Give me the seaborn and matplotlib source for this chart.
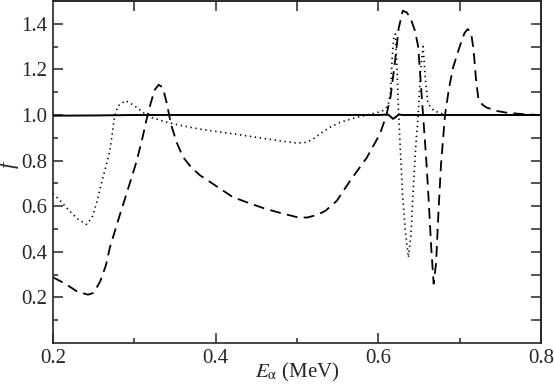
import matplotlib
matplotlib.use('Agg')
import matplotlib.pyplot as plt
import numpy as np
import pandas as pd
import seaborn as sns

# solid curve
solid_x = [0.200, 0.250, 0.300, 0.600, 0.612, 0.616, 0.618, 0.621, 0.625, 0.630, 0.800]
solid_y = [0.997, 0.998, 1.000, 1.000, 1.002, 0.990, 0.983, 0.990, 1.002, 1.000, 1.000]

# dashed curve
dash_x = [0.200, 0.215, 0.230, 0.243, 0.250, 0.258, 0.265, 0.270, 0.276, 0.282,
          0.290, 0.297, 0.303, 0.310, 0.315, 0.320, 0.325, 0.330, 0.335, 0.340,
          0.345, 0.352, 0.360, 0.370, 0.381, 0.400, 0.421, 0.440, 0.460, 0.480,
          0.500, 0.512, 0.525, 0.535, 0.549, 0.565, 0.586, 0.602, 0.610, 0.615,
          0.620, 0.625, 0.630, 0.635, 0.640, 0.645, 0.649, 0.652, 0.655, 0.659,
          0.662, 0.665, 0.668, 0.671, 0.674, 0.677, 0.682, 0.687, 0.692, 0.700,
          0.706, 0.710, 0.714, 0.717, 0.720, 0.723, 0.728, 0.733, 0.745, 0.758,
          0.780, 0.800]
dash_y = [0.288, 0.260, 0.225, 0.212, 0.220, 0.270, 0.340, 0.420, 0.490, 0.560,
          0.650, 0.730, 0.800, 0.900, 0.980, 1.050, 1.110, 1.133, 1.120, 1.050,
          0.960, 0.880, 0.815, 0.770, 0.735, 0.690, 0.640, 0.615, 0.590, 0.570,
          0.552, 0.550, 0.562, 0.580, 0.624, 0.710, 0.814, 0.917, 1.000, 1.080,
          1.220, 1.380, 1.457, 1.450, 1.420, 1.370, 1.300, 1.150, 1.000, 0.800,
          0.620, 0.420, 0.260, 0.350, 0.580, 0.780, 1.000, 1.120, 1.210, 1.300,
          1.360, 1.377, 1.360, 1.290, 1.160, 1.070, 1.045, 1.033, 1.018, 1.010,
          1.003, 1.000]

# dotted curve
dot_x = [0.200, 0.210, 0.220, 0.230, 0.241, 0.248, 0.254, 0.258, 0.264, 0.270,
         0.276, 0.280, 0.289, 0.296, 0.303, 0.311, 0.320, 0.340, 0.360, 0.381,
         0.400, 0.422, 0.445, 0.463, 0.480, 0.500, 0.512, 0.520, 0.528, 0.540,
         0.553, 0.570, 0.586, 0.600, 0.606, 0.612, 0.615, 0.617, 0.619, 0.621,
         0.623, 0.625, 0.628, 0.630, 0.633, 0.637, 0.640, 0.643, 0.646, 0.649,
         0.652, 0.655, 0.658, 0.661, 0.668, 0.676, 0.684, 0.800]
dot_y = [0.655, 0.620, 0.580, 0.545, 0.520, 0.550, 0.620, 0.680, 0.760, 0.845,
         1.000, 1.040, 1.063, 1.050, 1.033, 1.010, 0.990, 0.968, 0.952, 0.938,
         0.928, 0.917, 0.905, 0.895, 0.886, 0.877, 0.880, 0.895, 0.917, 0.945,
         0.968, 0.986, 1.000, 1.012, 1.020, 1.040, 1.100, 1.250, 1.340, 1.355,
         1.200, 1.000, 0.780, 0.640, 0.500, 0.375, 0.470, 0.680, 0.860, 1.000,
         1.200, 1.300, 1.150, 1.050, 1.020, 1.008, 1.000, 1.000]

sns.set_style('ticks')
plt.rcParams['font.family'] = 'serif'
plt.rcParams['font.serif'] = ['Liberation Serif', 'DejaVu Serif']
plt.rcParams['mathtext.fontset'] = 'stix'

fig = plt.figure(figsize=(5.54, 3.89), dpi=100)
ax = fig.add_axes([53 / 554, 1 - 343 / 389, 488 / 554, 342 / 389])

sns.lineplot(x=solid_x, y=solid_y, ax=ax, color='black', lw=1.4,
             estimator=None, sort=False)
sns.lineplot(x=dash_x, y=dash_y, ax=ax, color='black', lw=1.3,
             linestyle=(0, (6, 3.5)), estimator=None, sort=False)
sns.lineplot(x=dot_x, y=dot_y, ax=ax, color='black', lw=1.2,
             linestyle=(0, (0.8, 2.2)), estimator=None, sort=False)

ax.set_xlim(0.2, 0.8)
ax.set_ylim(0.0, 1.5)
ax.set_xticks([0.2, 0.4, 0.6, 0.8])
ax.set_xticks([0.3, 0.5, 0.7], minor=True)
ax.set_yticks([0.2, 0.4, 0.6, 0.8, 1.0, 1.2, 1.4])
ax.set_yticks([0.1, 0.3, 0.5, 0.7, 0.9, 1.1, 1.3], minor=True)
ax.set_xticklabels(['0.2', '0.4', '0.6', '0.8'])
ax.set_yticklabels(['0.2', '0.4', '0.6', '0.8', '1.0', '1.2', '1.4'])
ax.tick_params(which='major', direction='in', length=7, width=1.1,
               labelsize=15, pad=4)
ax.tick_params(which='minor', direction='in', length=3.5, width=1.1)

# top and right: all ticks same length
top = ax.secondary_xaxis('top')
top.set_xticks([0.3, 0.4, 0.5, 0.6, 0.7])
top.tick_params(direction='in', length=7, width=1.1, labeltop=False)
right = ax.secondary_yaxis('right')
right.set_yticks([0.1, 0.2, 0.3, 0.4, 0.5, 0.6, 0.7, 0.8, 0.9, 1.0, 1.1, 1.2, 1.3, 1.4])
right.tick_params(direction='in', length=7, width=1.1, labelright=False)

for sp in ax.spines.values():
    sp.set_linewidth(1.2)
for sp in list(top.spines.values()) + list(right.spines.values()):
    sp.set_linewidth(1.2)

ax.set_xlabel(r'$E_{\mathrm{\alpha}}$ (MeV)', fontsize=15)
ax.xaxis.set_label_coords(0.5, -0.052)
ax.set_ylabel('f', fontsize=16, style='italic')
ax.yaxis.set_label_coords(-0.07, 0.52)

fig.savefig('out.png', dpi=100)
